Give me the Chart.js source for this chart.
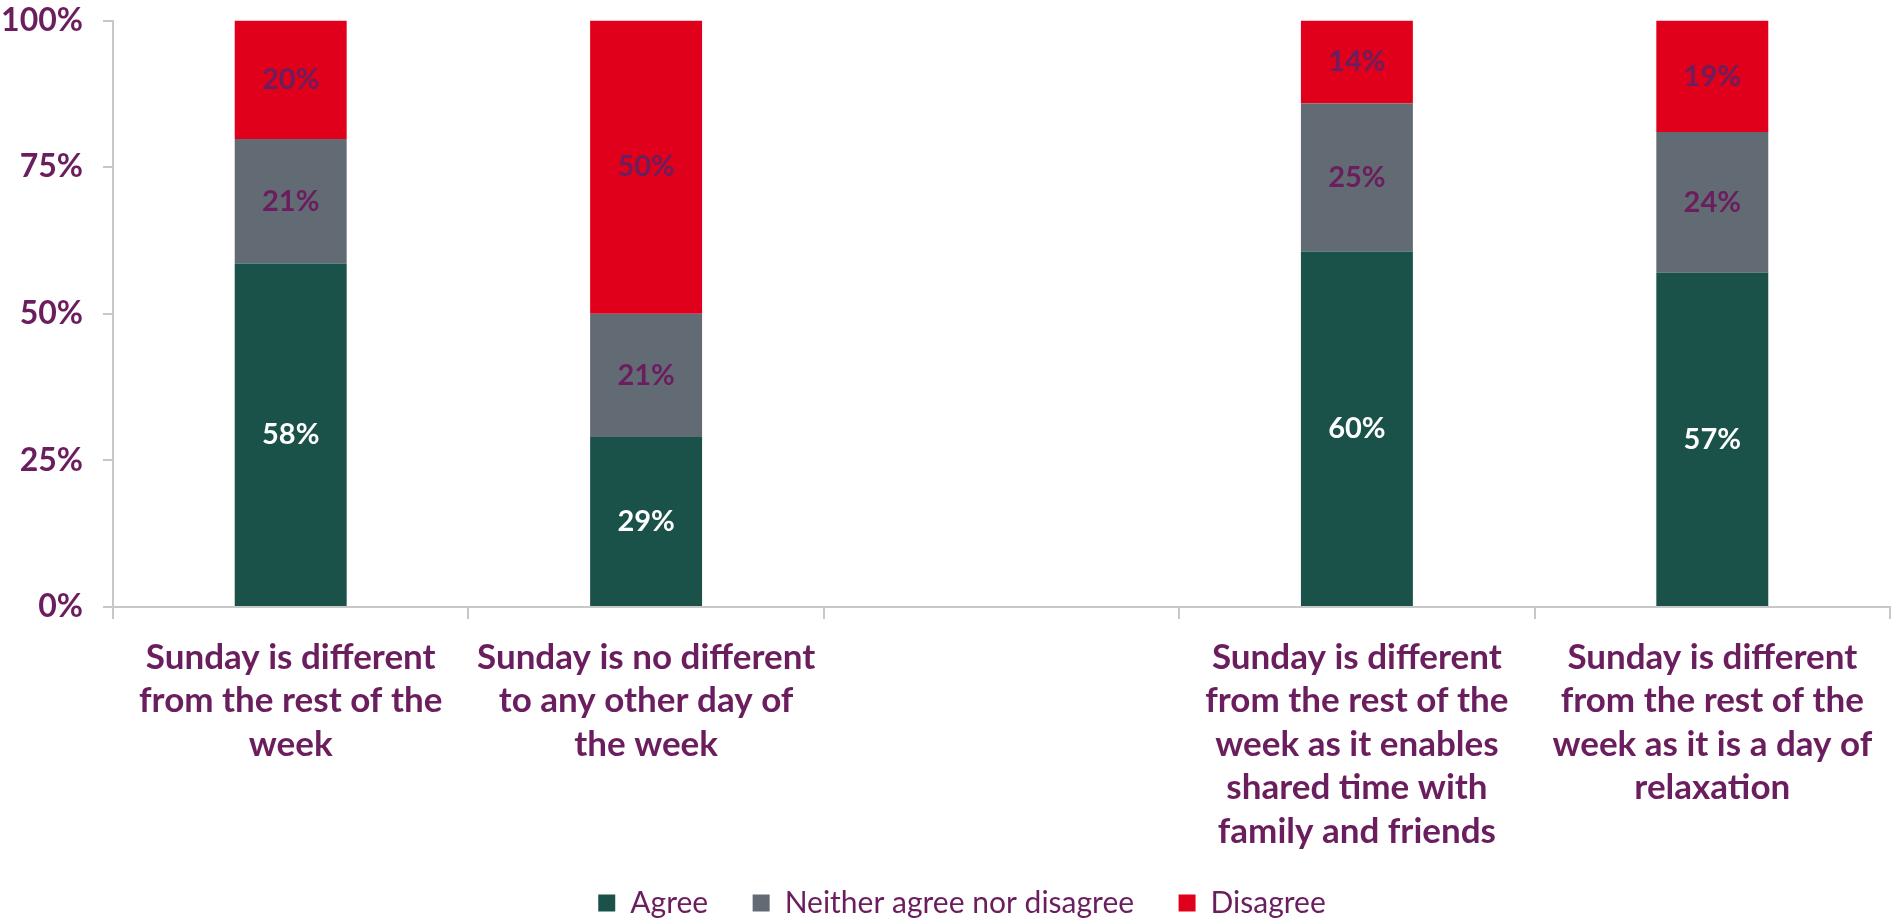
<!DOCTYPE html>
<html>
<head>
<meta charset="utf-8">
<script src="https://cdn.jsdelivr.net/npm/chart.js@4/dist/chart.umd.min.js"></script>
<style>
  html, body { margin: 0; padding: 0; background: #fff; }
  #wrap { width: 1894px; height: 918px; }
</style>
</head>
<body>
<div id="wrap"><canvas id="sundayChart"></canvas></div>
<script>
const categories = [
    ['Sunday is different', 'from the rest of the', 'week'],
    ['Sunday is no different', 'to any other day of', 'the week'],
    '',
    ['Sunday is different', 'from the rest of the', 'week as it enables', 'shared time with', 'family and friends'],
    ['Sunday is different', 'from the rest of the', 'week as it is a day of', 'relaxation'],
];
const agree = [58, 29, null, 60, 57];
const neither = [21, 21, null, 25, 24];
const disagree = [20, 50, null, 14, 19];
const yTicks = [0, 25, 50, 75, 100];

const purple = '#6B1E5E';

// 100% stacked, like the original
const share = (arr) => arr.map((v, i) => {
    if (v === null) return null;
    const total = agree[i] + neither[i] + disagree[i];
    return v / total * 100;
});

const raw = [agree, neither, disagree];

const segmentLabels = {
    id: 'segmentLabels',
    afterDatasetsDraw(chart) {
        const ctx = chart.ctx;
        ctx.save();
        ctx.font = 'bold 29px Lato';
        ctx.textAlign = 'center';
        ctx.textBaseline = 'middle';
        chart.data.datasets.forEach((ds, di) => {
            const meta = chart.getDatasetMeta(di);
            meta.data.forEach((bar, i) => {
                const v = raw[di][i];
                if (v === null) return;
                ctx.fillStyle = di === 0 ? '#ffffff' : purple;
                ctx.fillText(v + '%', bar.x, (bar.y + bar.base) / 2);
            });
        });
        ctx.restore();
    },
};

// legend sits a little right of the canvas centre in the original
const nudgeLegend = {
    id: 'nudgeLegend',
    afterLayout(chart) {
        chart.legend.left += 17;
        chart.legend.right += 17;
    },
};

document.addEventListener('DOMContentLoaded', () => {
    const el = document.getElementById('sundayChart');

    new Chart(el, {
        type: 'bar',
        data: {
            labels: categories,
            datasets: [
                { label: 'Agree', data: share(agree), backgroundColor: '#1A5249' },
                { label: 'Neither agree nor disagree', data: share(neither), backgroundColor: '#626A73' },
                { label: 'Disagree', data: share(disagree), backgroundColor: '#E1001B' },
            ],
        },
        options: {
            responsive: true,
            maintainAspectRatio: false,
            animation: false,
            datasets: { bar: { barPercentage: 0.63, categoryPercentage: 0.5 } },
            layout: { padding: { top: 20.5, right: 4, left: 0, bottom: -10 } },
            scales: {
                x: {
                    stacked: true,
                    grid: { drawOnChartArea: false, tickLength: 12, color: '#C8C8C8', lineWidth: 2 },
                    border: { color: '#C8C8C8', width: 2 },
                    ticks: {
                        color: purple,
                        font: { family: 'Lato', size: 35, weight: 'bold', lineHeight: 1.243 },
                        padding: 16.5,
                        maxRotation: 0,
                        autoSkip: false,
                    },
                    afterFit(scale) { scale.height = 259; },
                },
                y: {
                    stacked: true,
                    min: 0,
                    max: 100,
                    afterBuildTicks(scale) { scale.ticks = yTicks.map(v => ({ value: v })); },
                    grid: { drawOnChartArea: false, tickLength: 10, color: '#C8C8C8', lineWidth: 2 },
                    border: { color: '#C8C8C8', width: 2 },
                    ticks: {
                        color: purple,
                        font: { family: 'Lato', size: 32, weight: 'bold' },
                        padding: 20,
                        callback: (v) => v + '%',
                    },
                    afterFit(scale) {
                        scale.width = 113;
                        scale.paddingTop = 0;
                        scale.paddingBottom = 0;
                    },
                },
            },
            plugins: {
                legend: {
                    position: 'bottom',
                    labels: {
                        color: purple,
                        font: { family: 'Lato', size: 30 },
                        boxWidth: 17,
                        boxHeight: 17,
                        padding: 22,
                        generateLabels(chart) {
                            const items = Chart.defaults.plugins.legend.labels.generateLabels(chart);
                            items.forEach((it, i) => {
                                if (i < items.length - 1) it.text += '\u2003';
                            });
                            return items;
                        },
                    },
                },
                tooltip: { enabled: false },
            },
        },
        plugins: [segmentLabels, nudgeLegend],
    });
});
</script>
</body>
</html>
